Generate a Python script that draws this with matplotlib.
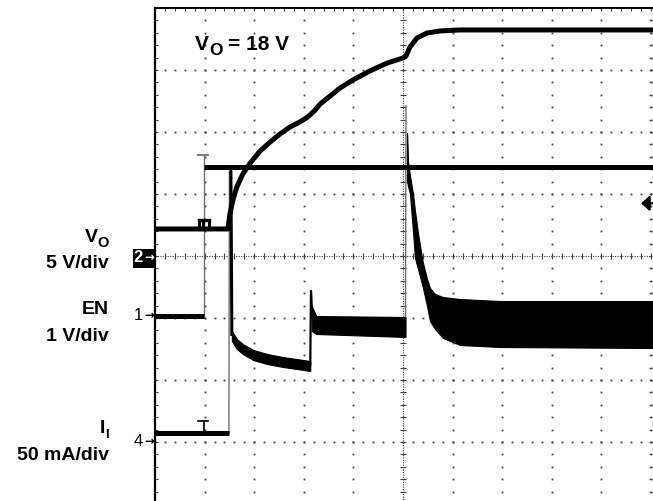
import matplotlib
matplotlib.use("Agg")
import matplotlib.pyplot as plt
import numpy as np
from matplotlib.patches import Rectangle

W, H, DPI = 653, 501, 100
PXX = 49.6   # pixels per horizontal division
PXY = 62.0   # pixels per vertical division

# ---------------- channel settings (ground marker position in divisions) -------------
VO_SCALE, VO_ZERO = 5.0, 0.0      # V/div, marker "2"
EN_SCALE, EN_ZERO = 1.0, -0.97    # V/div, marker "1"
II_SCALE, II_ZERO = 50.0, -3.0    # mA/div, marker "4"

# ---------------- V_O trace (time in divisions, volts) ----------------
vo_t = [0.00, 1.47, 1.51, 1.57, 1.65, 1.77, 1.92, 2.12, 2.32, 2.52, 2.72, 2.92, 3.08,
        3.21, 3.33, 3.53, 3.73, 3.99, 4.33, 4.68, 5.00, 5.06, 5.14, 5.28, 5.48, 5.75,
        6.15, 10.05]
vo_v = [2.18, 2.18, 3.39, 4.52, 5.56, 6.61, 7.50, 8.47, 9.19, 9.84, 10.40, 10.81, 11.21,
        11.69, 12.26, 12.90, 13.55, 14.19, 14.92, 15.56, 15.97, 16.13, 16.85, 17.58, 17.98,
        18.15, 18.23, 18.23]
vo_glitch_t = [0.88, 0.97, 1.08]        # small box glitch at EN edge
vo_glitch_v = [2.18, 2.92]

# ---------------- EN trace (volts) ----------------
en_low_t = [0.00, 0.99]
en_low_v = [0.0, 0.0]
en_high_t = [0.99, 10.05]
en_high_v = [2.40, 2.40]
en_edge_t = [0.99, 0.99]
en_edge_v = [0.0, 2.60]
en_cap_t = [0.87, 1.07]

# ---------------- I_I trace (mA) ----------------
ii_pre_t = [0.00, 1.49]
ii_pre_i = [7.3, 7.3]
ii_cap_t = [0.87, 1.07]
ii_glitch = [7.3, 16.9]
ii_rise1_t = [1.49, 1.50]
ii_rise1_i = [7.3, 218.5]
ii_drop1_t = [1.51, 1.53, 1.55]
ii_drop1_i = [218.5, 218.5, 85.5]
# decaying band after first inrush
iiA_t = [1.55, 1.65, 1.77, 1.98, 2.26, 2.58, 3.13]
iiA_hi = [89.5, 83.1, 79.0, 74.2, 71.0, 68.5, 65.3]
iiA_lo = [81.5, 75.0, 71.0, 66.1, 62.9, 60.5, 57.3]
ii_jump_t = [3.13, 3.145, 3.17]
ii_jump_i = [61.3, 121.8, 101.0]
# intermediate switching band
iiB_t = [3.16, 3.25, 5.05]
iiB_hi = [109.7, 101.6, 100.8]
iiB_lo = [89.5, 87.1, 84.7]
ii_rise2_t = [5.05, 5.06]
ii_rise2_i = [93.0, 271.0]
# final switching band after spike
iiC_t = [5.081, 5.101, 5.141, 5.202, 5.242, 5.302, 5.383, 5.403, 5.484, 5.544, 5.645,
         5.806, 6.149, 6.956, 10.05]
iiC_hi = [249.2, 226.6, 214.5, 200.0, 186.3, 168.5, 148.4, 144.4, 131.5, 124.2, 119.4,
          116.9, 115.3, 113.7, 113.7]
iiC_lo = [210.5, 206.5, 200.0, 169.4, 148.4, 139.5, 127.4, 124.2, 109.7, 97.6, 91.1,
          83.9, 78.2, 76.6, 75.8]

# trigger level (EN volts)
trig_level = 1.82


def vo(v):
    return np.asarray(v, float) / VO_SCALE + VO_ZERO


def en(v):
    return np.asarray(v, float) / EN_SCALE + EN_ZERO


def ii(v):
    return np.asarray(v, float) / II_SCALE + II_ZERO


fig = plt.figure(figsize=(W / DPI, H / DPI), dpi=DPI)
fig.patch.set_facecolor("white")
ax_w = (W - 155) / W
ax_h = (H - 8) / H
ax = fig.add_axes([155 / W, 0, ax_w, ax_h])
ax.set_xlim(0, (W - 155) / PXX)
ax.set_ylim(4 - (H - 8) / PXY, 4)
ax.axis("off")

# ---------------- graticule ----------------
GC = "#404040"
dot = dict(ls="none", marker="s", ms=1.3, mew=0, color=GC, zorder=1)
ys = np.arange(-20, 21) * 0.2
xs = np.arange(0, 51) * 0.2
for i in range(1, 11):
    if i == 5:
        continue
    ax.plot(np.full_like(ys, i), ys, **dot)
for j in range(-3, 4):
    if j == 0:
        continue
    ax.plot(xs, np.full_like(xs, j), **dot)
ax.plot([0, 10], [0, 0], color=GC, lw=0.8, ls=(0, (1.0, 1.2)), zorder=1)
ax.plot([5, 5], [-4, 4], color=GC, lw=0.8, ls=(0, (1.0, 1.2)), zorder=1)
th = 3 / PXY
tw = 3 / PXX
ax.vlines(xs, -th, th, colors=GC, lw=0.8, zorder=1)
ax.hlines(ys, 5 - tw, 5 + tw, colors=GC, lw=0.8, zorder=1)
# borders
ax.plot([0, 10.04], [4, 4], color="k", lw=1.4, clip_on=False, zorder=2)
ax.vlines(xs, 4 - 3 / PXY, 4, colors=GC, lw=0.8, zorder=1)
ax.plot([0, 0], [-4, 4], color="k", lw=1.6, clip_on=False, zorder=2)
ax.hlines(ys, 0, 2.5 / PXX, colors=GC, lw=0.8, zorder=1)
ax.hlines(ys, 10 - 2.5 / PXX, 10, colors=GC, lw=0.8, zorder=1)

TH = 3.6   # thick trace width (pt)
K = "black"
G = "#6e6e6e"
lk = dict(color=K, solid_capstyle="butt", zorder=4)

# ---------------- EN ----------------
ax.plot(en_edge_t, en(en_edge_v), color=G, lw=1.0, zorder=3)
ax.plot(en_cap_t, en([en_edge_v[1]] * 2), color=G, lw=1.3, zorder=3)
ax.plot(en_low_t, en(en_low_v), lw=TH, **lk)
ax.plot(en_high_t, en(en_high_v), lw=TH, **lk)

# ---------------- V_O ----------------
ax.plot(vo_t, vo(vo_v), lw=TH, **lk)
gv = vo(vo_glitch_v)
for gt in vo_glitch_t:
    ax.plot([gt, gt], gv, color=K, lw=2.2, zorder=4, solid_capstyle="projecting")
ax.plot([vo_glitch_t[0], vo_glitch_t[-1]], [gv[1], gv[1]], color=K, lw=2.4, zorder=4,
        solid_capstyle="projecting")

# ---------------- I_I ----------------
ax.plot(ii_pre_t, ii(ii_pre_i), lw=TH, **lk)
ax.plot([0.99, 0.99], ii(ii_glitch), color=K, lw=1.2, zorder=4)
ax.plot(ii_cap_t, ii([ii_glitch[1]] * 2), color=K, lw=1.2, zorder=4)
ax.plot(ii_rise1_t, ii(ii_rise1_i), color=G, lw=1.0, zorder=3)
ax.plot(ii_drop1_t, ii(ii_drop1_i), lw=2.2, **lk)
ax.fill_between(iiA_t, ii(iiA_lo), ii(iiA_hi), color=K, lw=0.8, zorder=4)
ax.plot(ii_jump_t, ii(ii_jump_i), lw=1.6, **lk)
ax.fill_between(iiB_t, ii(iiB_lo), ii(iiB_hi), color=K, lw=0.8, zorder=4)
ax.plot(ii_rise2_t, ii(ii_rise2_i), color=G, lw=1.0, zorder=3)
ax.fill_between(iiC_t, ii(iiC_lo), ii(iiC_hi), color=K, lw=0.8, zorder=4)

# ---------------- text ----------------
renderer = fig.canvas.get_renderer()
FONT = ["Liberation Sans", "DejaVu Sans"]


def rich_text(pieces, x, y, align="left"):
    arts, widths, gaps = [], [], []
    for s, size, dy, gap in pieces:
        t = fig.text(0, 0, s, fontsize=size, fontweight="bold", family=FONT,
                     va="baseline", ha="left")
        widths.append(t.get_window_extent(renderer).width)
        gaps.append(gap * size * DPI / 72)
        arts.append(t)
    total = sum(widths) + sum(gaps)
    cx = x if align == "left" else x - total
    for (s, size, dy, gap), t, w, g in zip(pieces, arts, widths, gaps):
        cx += g
        t.set_position((cx / W, 1 - (y + dy) / H))
        cx += w


rich_text([("V", 15, 0, 0), ("O", 12.5, 5, 0), ("= 18 V", 15, 0, 0.28)], 195, 50)
rich_text([("V", 14, 0, 0), ("O", 10.5, 5, 0)], 109, 242, "right")
rich_text([("5 V/div", 14, 0, 0)], 109, 268, "right")
rich_text([("EN", 14, 0, 0)], 109, 314, "right")
rich_text([("1 V/div", 14, 0, 0)], 109, 341, "right")
rich_text([("I", 14, 0, 0), ("I", 9.5, 5, 0)], 109, 433, "right")
rich_text([("50 mA/div", 14, 0, 0)], 109, 460, "right")

# channel ground markers: digit + small arrow
box = Rectangle((133 / W, 1 - 268 / H), 22 / W, 19 / H,
                transform=fig.transFigure, facecolor="black", edgecolor="none")
box.set_zorder(0.5)
fig.patches.append(box)


def marker(label, y, color, bold=False):
    t = fig.text(143 / W, 1 - y / H, label, color=color, fontsize=12,
                 family=["Liberation Sans"], fontweight="bold" if bold else "normal",
                 ha="right", va="center")
    t.set_zorder(6)
    a = fig.text(154.5 / W, 1 - (y - 0.5) / H, "\u2192", color=color, fontsize=8.5,
                 family=["DejaVu Sans"], ha="right", va="center", fontweight="bold")
    a.set_zorder(6)


marker("2", 258, "white", bold=True)
marker("1", 316, "black")
marker("4", 442, "black")

# trigger level arrow on right edge
ty = en(trig_level)
ax.annotate("", xy=(10.0 - 0.2, ty), xytext=(10.04, ty), xycoords="data",
            arrowprops=dict(arrowstyle="-|>,head_length=0.5,head_width=0.45",
                            color="black", lw=1.6, shrinkA=0, shrinkB=0,
                            mutation_scale=10),
            annotation_clip=False, zorder=6)

fig.savefig("out.png", dpi=DPI, facecolor="white")
